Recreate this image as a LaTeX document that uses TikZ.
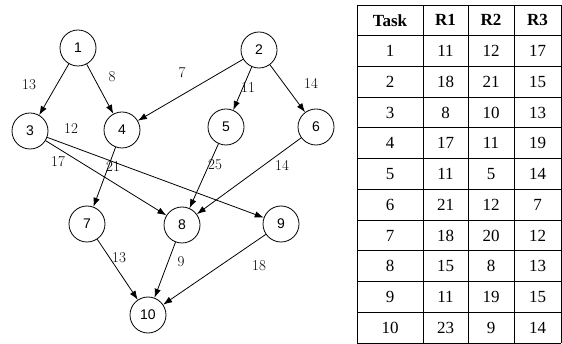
\documentclass[tikz,border=0pt]{standalone}
\usepackage{fontspec}
\newfontfamily\nodefont{Liberation Sans}
\newfontfamily\tabfont{Liberation Serif}
\usetikzlibrary{arrows.meta}
\tikzset{
  task/.style={circle, draw, line width=0.8pt, minimum size=36pt, inner sep=0pt, font=\nodefont\fontsize{14}{14}\selectfont},
  edge/.style={line width=0.8pt, -{Latex[length=9pt,width=6.5pt]}},
  weight/.style={font=\fontsize{15}{15}\selectfont, inner sep=0pt},
  cell/.style={font=\tabfont\fontsize{17}{17}\selectfont, inner sep=0pt},
  head/.style={font=\tabfont\bfseries\fontsize{17}{17}\selectfont, inner sep=0pt},
  grid/.style={line width=0.9pt}
}
\begin{document}
\begin{tikzpicture}[x=1pt,y=-1pt]
\useasboundingbox (0,0) rectangle (562,344);

% task graph
\node[task] (n1) at (78,48) {1};
\node[task] (n2) at (259,50) {2};
\node[task] (n3) at (30,131) {3};
\node[task] (n4) at (122,130) {4};
\node[task] (n5) at (226,127) {5};
\node[task] (n6) at (316,127) {6};
\node[task] (n7) at (87,224) {7};
\node[task] (n8) at (182,225) {8};
\node[task] (n9) at (281,224) {9};
\node[task] (n10) at (148,315) {10};

\draw[edge] (n1) -- (n3);
\draw[edge] (n1) -- (n4);
\draw[edge] (n2) -- (n4);
\draw[edge] (n2) -- (n5);
\draw[edge] (n2) -- (n6);
\draw[edge] (n3) -- (n8);
\draw[edge] (n3) -- (n9);
\draw[edge] (n4) -- (n7);
\draw[edge] (n5) -- (n8);
\draw[edge] (n6) -- (n8);
\draw[edge] (n7) -- (n10);
\draw[edge] (n8) -- (n10);
\draw[edge] (n9) -- (n10);

% edge weights
\node[weight] (w13) at (29,85) {13};
\node[weight] (w14) at (112,77) {8};
\node[weight] (w24) at (182,73) {7};
\node[weight] (w25) at (248,88) {11};
\node[weight] (w26) at (311,83) {14};
\node[weight] (w39) at (71,129) {12};
\node[weight] (w38) at (58,162) {17};
\node[weight] (w47) at (113,167) {21};
\node[weight] (w58) at (215,165) {25};
\node[weight] (w68) at (282,165) {14};
\node[weight] (w710) at (119,258) {13};
\node[weight] (w810) at (181,262) {9};
\node[weight] (w910) at (259,266) {18};

% resource table
\def\rowh{30.727}
\foreach \i in {0,...,11} {
  \draw[grid] (357,5+\i*\rowh) -- (561,5+\i*\rowh);
}
\foreach \x in {357,423,468,514,561} {
  \draw[grid] (\x,5) -- (\x,343);
}
\foreach \t/\cx in {Task/390,R1/445.5,R2/491,R3/537.5} {
  \node[head] at (\cx,5+0.5*\rowh) {\t};
}
\foreach [count=\r] \a/\b/\c/\d in {1/11/12/17,2/18/21/15,3/8/10/13,4/17/11/19,5/11/5/14,6/21/12/7,7/18/20/12,8/15/8/13,9/11/19/15,10/23/9/14} {
  \node[cell] at (390,5+\r*\rowh+0.5*\rowh) {\a};
  \node[cell] at (445.5,5+\r*\rowh+0.5*\rowh) {\b};
  \node[cell] at (491,5+\r*\rowh+0.5*\rowh) {\c};
  \node[cell] at (537.5,5+\r*\rowh+0.5*\rowh) {\d};
}
\end{tikzpicture}
\end{document}
